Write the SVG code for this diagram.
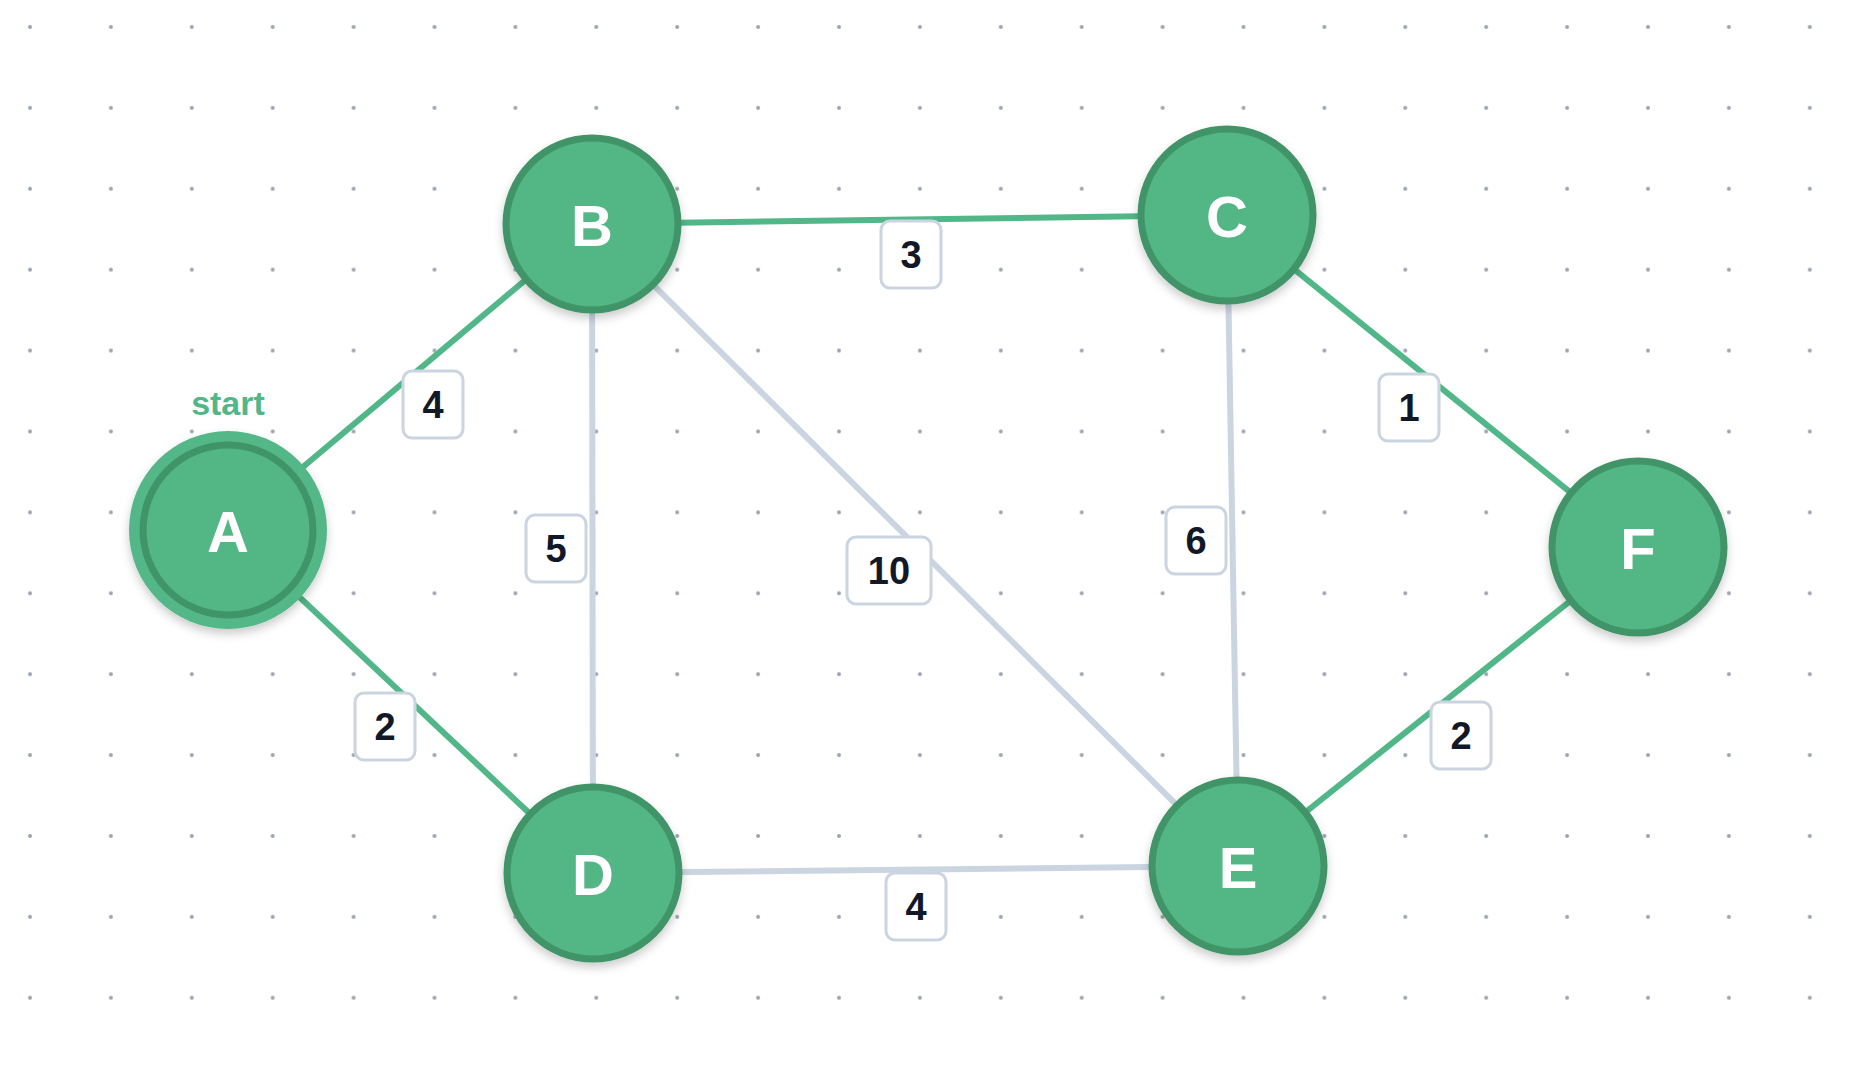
<svg xmlns="http://www.w3.org/2000/svg" width="1860" height="1070" viewBox="0 0 1860 1070">
<defs>
<pattern id="dots" x="0" y="0" width="80.9" height="80.9" patternUnits="userSpaceOnUse"><circle cx="30" cy="27" r="2" fill="#9ca3af"/></pattern>
<filter id="sh" x="-30%" y="-30%" width="160%" height="160%"><feDropShadow dx="0" dy="5" stdDeviation="5" flood-color="#000" flood-opacity="0.2"/></filter>
</defs>
<style>
.g{stroke:#52b788;stroke-width:6;fill:none}
.x{stroke:#cbd5e1;stroke-width:6;fill:none}
.n{fill:#52b685;stroke:#3f9468;stroke-width:7;filter:url(#sh)}
.nt{font-family:"Liberation Sans",Arial,sans-serif;font-weight:bold;font-size:58px;fill:#fff;text-anchor:middle;dominant-baseline:central}
.lb{fill:#fff;stroke:#cbd5e1;stroke-width:3}
.lt{font-family:"Liberation Sans",Arial,sans-serif;font-weight:bold;font-size:38px;fill:#111827;text-anchor:middle;dominant-baseline:central}
</style>
<rect width="1860" height="1070" fill="#fff"/>
<rect width="1860" height="1070" fill="url(#dots)"/>
<g id="edges">
<line class="g" x1="228" y1="530" x2="592" y2="224"/>
<line class="g" x1="228" y1="530" x2="593" y2="873"/>
<line class="g" x1="592" y1="224" x2="1227" y2="215"/>
<line class="x" x1="592" y1="224" x2="593" y2="873"/>
<line class="x" x1="592" y1="224" x2="1238" y2="866"/>
<line class="x" x1="1227" y1="215" x2="1238" y2="866"/>
<line class="g" x1="1227" y1="215" x2="1638" y2="547"/>
<line class="x" x1="593" y1="873" x2="1238" y2="866"/>
<line class="g" x1="1238" y1="866" x2="1638" y2="547"/>
<rect class="lb" x="881" y="221" width="60" height="67" rx="9"/><text class="lt" x="911" y="255">3</text>
<rect class="lb" x="403" y="371" width="60" height="67" rx="9"/><text class="lt" x="433" y="405">4</text>
<rect class="lb" x="526" y="515" width="60" height="67" rx="9"/><text class="lt" x="556" y="549">5</text>
<rect class="lb" x="847" y="537" width="84" height="67" rx="9"/><text class="lt" x="889" y="571">10</text>
<rect class="lb" x="1166" y="507" width="60" height="67" rx="9"/><text class="lt" x="1196" y="541">6</text>
<rect class="lb" x="1379" y="374" width="60" height="67" rx="9"/><text class="lt" x="1409" y="408">1</text>
<rect class="lb" x="355" y="693" width="60" height="67" rx="9"/><text class="lt" x="385" y="727">2</text>
<rect class="lb" x="1431" y="702" width="60" height="67" rx="9"/><text class="lt" x="1461" y="736">2</text>
<rect class="lb" x="886" y="873" width="60" height="67" rx="9"/><text class="lt" x="916" y="907">4</text>
</g>
<g id="A"><circle cx="228" cy="530" r="99" fill="#52b788" filter="url(#sh)"/><circle class="n" cx="228" cy="530" r="85" style="filter:none"/><text class="nt" x="228" y="531">A</text>
<text x="228" y="415" font-family="Liberation Sans,Arial,sans-serif" font-weight="bold" font-size="34" fill="#52b788" text-anchor="middle">start</text></g>
<g id="B"><circle class="n" cx="592" cy="224" r="86"/><text class="nt" x="592" y="225">B</text></g>
<g id="C"><circle class="n" cx="1227" cy="215" r="86"/><text class="nt" x="1227" y="216">C</text></g>
<g id="D"><circle class="n" cx="593" cy="873" r="86"/><text class="nt" x="593" y="874">D</text></g>
<g id="E"><circle class="n" cx="1238" cy="866" r="86"/><text class="nt" x="1238" y="867">E</text></g>
<g id="F"><circle class="n" cx="1638" cy="547" r="86"/><text class="nt" x="1638" y="548">F</text></g>
</svg>
